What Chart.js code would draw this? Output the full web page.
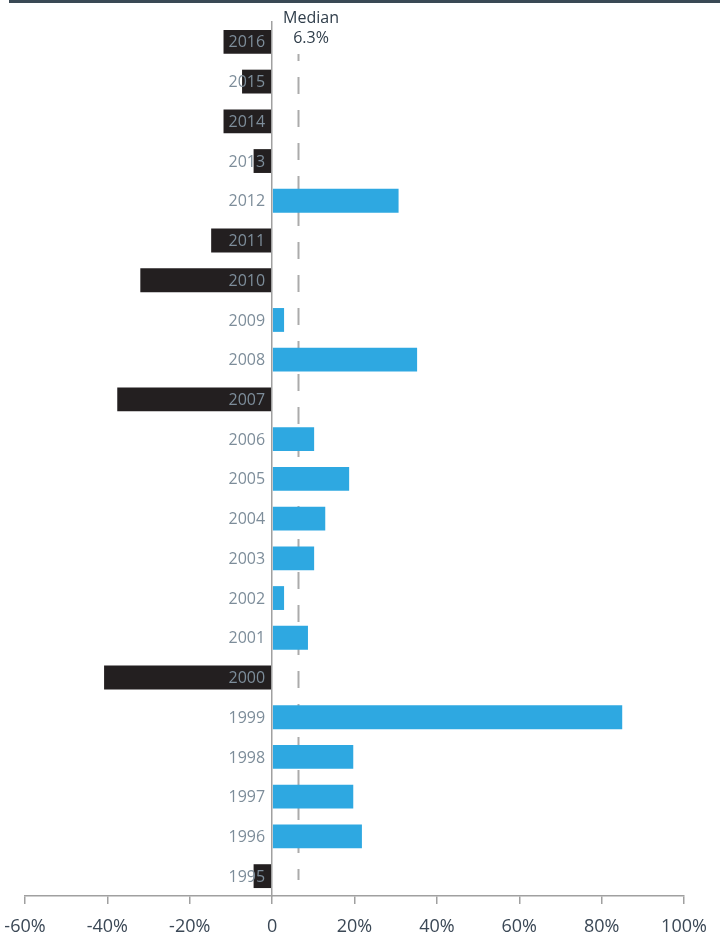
<!DOCTYPE html>
<html>
<head>
<meta charset="utf-8">
<script src="https://cdn.jsdelivr.net/npm/chart.js@4.4.1/dist/chart.umd.min.js"></script>
<style>
  html, body { margin: 0; padding: 0; background: #ffffff; }
  #wrap { position: relative; width: 720px; height: 941px; }
  #topbar { position: absolute; left: 9px; top: 0; width: 711px; height: 3px; background: #3a4955; }
  canvas { position: absolute; left: 0; top: 0; }
</style>
</head>
<body>
<div id="wrap">
  <canvas id="c" width="720" height="941"></canvas>
  <div id="topbar"></div>
</div>
<script>
const years = ['2016','2015','2014','2013','2012','2011','2010','2009','2008','2007','2006','2005','2004','2003','2002','2001','2000','1999','1998','1997','1996','1995'];
const returns = [-11.8, -7.3, -11.8, -4.5, 30.7, -14.8, -32.0, 2.9, 35.2, -37.6, 10.2, 18.7, 12.9, 10.2, 2.9, 8.7, -40.8, 85.0, 19.7, 19.7, 21.8, -4.5];
const xTicks = [-60, -40, -20, 0, 20, 40, 60, 80, 100];
const medianValue = 6.3;
const medianLabel = ['Median', '6.3%'];

const POS = '#2ea8e1';
const NEG = '#231f20';
const FONT = "'Open Sans', 'DejaVu Sans', sans-serif";

const medianPlugin = {
  id: 'medianLine',
  beforeDatasetsDraw(chart) {
    const { ctx, chartArea, scales } = chart;
    const x = Math.round(scales.x.getPixelForValue(medianValue)) + 0.5;
    ctx.save();
    ctx.strokeStyle = '#ababab';
    ctx.lineWidth = 2;
    ctx.setLineDash([17, 16]);
    ctx.lineDashOffset = 10;
    ctx.beginPath();
    ctx.moveTo(x, chartArea.top + 32);
    ctx.lineTo(x, chartArea.bottom - 16);
    ctx.stroke();
    ctx.restore();
  },
  afterDatasetsDraw(chart) {
    // year labels drawn over the bars, right-aligned next to the zero axis
    const { ctx, scales } = chart;
    const x0 = scales.x.getPixelForValue(0) - 7;
    ctx.save();
    ctx.fillStyle = '#7d8d9a';
    ctx.font = '16px ' + FONT;
    ctx.textAlign = 'right';
    ctx.textBaseline = 'middle';
    years.forEach((yr, i) => {
      ctx.fillText(yr, x0, scales.y.getPixelForValue(i) + 1);
    });
    ctx.restore();
  },
  afterDraw(chart) {
    const { ctx, chartArea, scales } = chart;
    const x = scales.x.getPixelForValue(medianValue) + 13;
    ctx.save();
    ctx.fillStyle = '#2f3d4a';
    ctx.font = '16px ' + FONT;
    ctx.textAlign = 'center';
    ctx.textBaseline = 'middle';
    ctx.fillText(medianLabel[0], x, chartArea.top - 4);
    ctx.fillText(medianLabel[1], x, chartArea.top + 16);
    ctx.restore();
  }
};

new Chart(document.getElementById('c'), {
  type: 'bar',
  data: {
    labels: years,
    datasets: [{
      data: returns,
      backgroundColor: returns.map(v => v < 0 ? NEG : POS),
      borderWidth: 0,
      barPercentage: 0.6,
      categoryPercentage: 1.0
    }]
  },
  options: {
    indexAxis: 'y',
    responsive: false,
    animation: false,
    devicePixelRatio: 1,
    layout: { padding: { left: 25, right: 36, top: 22, bottom: 0 } },
    plugins: { legend: { display: false }, tooltip: { enabled: false } },
    scales: {
      x: {
        type: 'linear',
        min: -60, max: 100,
        afterBuildTicks(scale) { scale.ticks = xTicks.map(v => ({ value: v })); },
        afterFit(scale) { scale.paddingLeft = 0; scale.paddingRight = 0; scale.height = 45; },
        grid: { drawOnChartArea: false, drawTicks: true, tickLength: 8, color: '#a0a0a0', lineWidth: 1.5 },
        border: { display: true, color: '#a0a0a0', width: 1.5 },
        ticks: {
          color: '#3b4856',
          padding: 12,
          font: { family: FONT, size: 18 },
          callback: v => v === 0 ? '0' : v + '%'
        }
      },
      y: {
        type: 'category',
        position: { x: 0 },
        grid: { display: false },
        border: { display: true, color: '#a0a0a0', width: 1.5, z: 1 },
        ticks: { display: false }
      }
    }
  },
  plugins: [medianPlugin]
});
</script>
</body>
</html>
